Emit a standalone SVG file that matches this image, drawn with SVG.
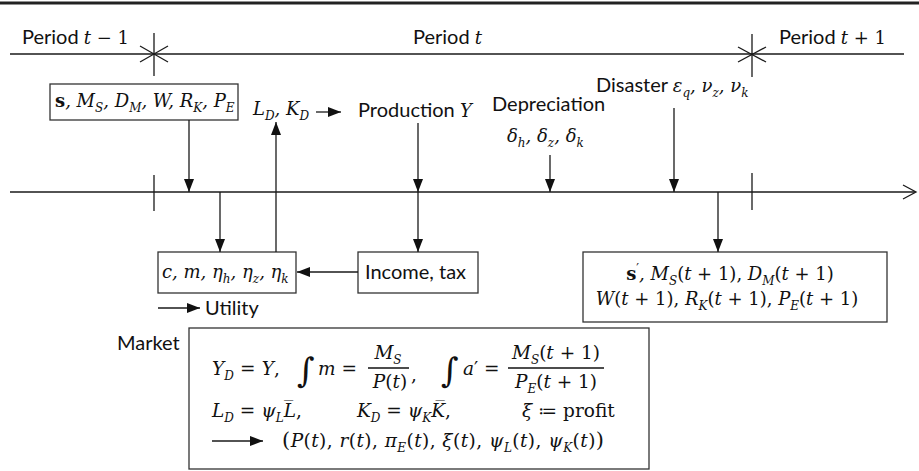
<svg xmlns="http://www.w3.org/2000/svg" width="919" height="471" viewBox="0 0 919 471">
<style>
.ln{stroke:#1a1a1a;stroke-width:1.3;fill:none}
.box{fill:#fff;stroke:#333;stroke-width:1.3}
.sans{font-family:Lato,"Liberation Sans",sans-serif;font-size:20px;fill:#111}
.m{font-family:"DejaVu Serif",serif;font-style:italic;font-size:18px;fill:#111}
.mk{font-size:18.5px}
.up{font-style:normal}
.b{font-weight:bold}
.sb{font-size:12px}
.int{font-family:"DejaVu Serif",serif;font-size:34px;fill:#111}
</style>
<defs>
<marker id="ah" markerUnits="userSpaceOnUse" markerWidth="13" markerHeight="10" refX="13" refY="5" orient="auto">
<path d="M0,0 L13,5 L0,10 z" fill="#111"/>
</marker>
</defs>
<rect width="919" height="471" fill="#fff"/>
<line x1="0" y1="3" x2="919" y2="3" stroke="#222" stroke-width="3"/>

<g id="timeline-periods">
<line class="ln" x1="10" y1="54" x2="904" y2="54"/>
<line class="ln" x1="154" y1="33" x2="154" y2="76"/>
<line class="ln" x1="140" y1="46" x2="168" y2="62"/>
<line class="ln" x1="140" y1="62" x2="168" y2="46"/>
<line class="ln" x1="752" y1="34" x2="752" y2="77"/>
<line class="ln" x1="738" y1="47" x2="766" y2="62"/>
<line class="ln" x1="738" y1="62" x2="766" y2="47"/>
<text class="sans" x="22" y="44">Period <tspan class="m" font-size="19.5px">t</tspan><tspan class="m up" font-size="19.5px"> − 1</tspan></text>
<text class="sans" x="413" y="44">Period <tspan class="m" font-size="19.5px">t</tspan></text>
<text class="sans" x="779" y="44">Period <tspan class="m" font-size="19.5px">t</tspan><tspan class="m up" font-size="19.5px"> + 1</tspan></text>
</g>

<g id="timeline-main">
<line class="ln" x1="10" y1="192" x2="915" y2="192"/>
<polyline class="ln" points="903,185 916,192 903,199"/>
<line class="ln" x1="154" y1="175" x2="154" y2="211"/>
<line class="ln" x1="752" y1="173" x2="752" y2="210"/>
</g>

<g id="state">
<rect class="box" x="50" y="84" width="188" height="36"/>
<text class="m" x="55" y="107"><tspan class="b up">s</tspan>, M<tspan class="sb" dy="4.5">S</tspan><tspan dy="-4.5">, D</tspan><tspan class="sb" dy="4.5">M</tspan><tspan dy="-4.5">, W, R</tspan><tspan class="sb" dy="4.5">K</tspan><tspan dy="-4.5">, P</tspan><tspan class="sb" dy="4.5">E</tspan></text>
</g>

<g id="factor-demand">
<text class="m" x="253" y="115">L<tspan class="sb" dy="4.5">D</tspan><tspan dy="-4.5">, K</tspan><tspan class="sb" dy="4.5">D</tspan></text>
</g>

<g id="production">
<text class="sans" x="358" y="117">Production <tspan class="m" font-size="18px">Y</tspan></text>
</g>

<g id="depreciation">
<text class="sans" x="492" y="111">Depreciation</text>
<text class="m" x="507" y="142">δ<tspan class="sb" dy="4.5">h</tspan><tspan dy="-4.5">, δ</tspan><tspan class="sb" dy="4.5">z</tspan><tspan dy="-4.5">, δ</tspan><tspan class="sb" dy="4.5">k</tspan></text>
</g>

<g id="disaster">
<text class="sans" x="596" y="92" font-size="19.5px">Disaster <tspan class="m">ε</tspan><tspan class="m sb" dy="4.5">q</tspan><tspan class="m" dy="-4.5">, ν</tspan><tspan class="m sb" dy="4.5">z</tspan><tspan class="m" dy="-4.5">, ν</tspan><tspan class="m sb" dy="4.5">k</tspan></text>
</g>

<g id="choice">
<rect class="box" x="158" y="252" width="138" height="41"/>
<text class="m" x="162" y="278">c, m, η<tspan class="sb" dy="4.5">h</tspan><tspan dy="-4.5">, η</tspan><tspan class="sb" dy="4.5">z</tspan><tspan dy="-4.5">, η</tspan><tspan class="sb" dy="4.5">k</tspan></text>
</g>

<g id="income">
<rect class="box" x="358" y="252" width="120" height="41"/>
<text class="sans" x="365" y="279">Income, tax</text>
</g>

<g id="utility">
<text class="sans" x="205" y="315">Utility</text>
</g>

<g id="next-state">
<rect class="box" x="583" y="252" width="304" height="70"/>
<text class="m" x="730" y="280" text-anchor="middle" font-size="17.5px"><tspan class="b up">s</tspan><tspan class="sb up" dy="-7">′</tspan><tspan dy="7">, M</tspan><tspan class="sb" dy="4.5">S</tspan><tspan class="up" dy="-4.5">(</tspan>t<tspan class="up"> + 1), </tspan>D<tspan class="sb" dy="4.5">M</tspan><tspan class="up" dy="-4.5">(</tspan>t<tspan class="up"> + 1)</tspan></text>
<text class="m" x="727" y="305" text-anchor="middle" font-size="17.5px">W<tspan class="up">(</tspan>t<tspan class="up"> + 1), </tspan>R<tspan class="sb" dy="4.5">K</tspan><tspan class="up" dy="-4.5">(</tspan>t<tspan class="up"> + 1), </tspan>P<tspan class="sb" dy="4.5">E</tspan><tspan class="up" dy="-4.5">(</tspan>t<tspan class="up"> + 1)</tspan></text>
</g>

<g id="market">
<text class="sans" x="117" y="350">Market</text>
<rect class="box" x="189" y="328" width="460" height="141"/>
<text class="m mk" x="212" y="375" textLength="68">Y<tspan class="sb" dy="4.5">D</tspan><tspan class="up" dy="-4.5"> = </tspan>Y<tspan class="up">,</tspan></text>
<text class="int" x="297" y="382">∫</text>
<text class="m mk" x="318" y="375">m<tspan class="up"> =</tspan></text>
<text class="m mk" x="388" y="359" text-anchor="middle">M<tspan class="sb" dy="4.5">S</tspan></text>
<line x1="368" y1="368" x2="409" y2="368" stroke="#111" stroke-width="1.3"/>
<text class="m mk" x="390" y="388" text-anchor="middle">P<tspan class="up">(</tspan>t<tspan class="up">)</tspan></text>
<text class="m mk up" x="411" y="381">,</text>
<text class="int" x="441" y="382">∫</text>
<text class="m mk" x="463" y="375">a<tspan class="up">′ =</tspan></text>
<text class="m mk" x="556" y="359" text-anchor="middle">M<tspan class="sb" dy="4.5">S</tspan><tspan class="up" dy="-4.5">(</tspan>t<tspan class="up"> + 1)</tspan></text>
<line x1="508" y1="368" x2="604" y2="368" stroke="#111" stroke-width="1.3"/>
<text class="m mk" x="556" y="388" text-anchor="middle">P<tspan class="sb" dy="4.5">E</tspan><tspan class="up" dy="-4.5">(</tspan>t<tspan class="up"> + 1)</tspan></text>
<text class="m mk" x="212" y="417">L<tspan class="sb" dy="4.5">D</tspan><tspan class="up" dy="-4.5"> = </tspan>ψ<tspan class="sb" dy="4.5">L</tspan><tspan dy="-4.5">L̅</tspan><tspan class="up">,</tspan></text>
<text class="m mk" x="357" y="417">K<tspan class="sb" dy="4.5">D</tspan><tspan class="up" dy="-4.5"> = </tspan>ψ<tspan class="sb" dy="4.5">K</tspan><tspan dy="-4.5">K̅</tspan><tspan class="up">,</tspan></text>
<text class="m mk" x="522" y="417">ξ<tspan class="up"> ≔ profit</tspan></text>
<text class="m mk" x="282" y="447" textLength="322"><tspan class="up" font-size="21px">(</tspan>P<tspan class="up">(</tspan>t<tspan class="up">), </tspan>r<tspan class="up">(</tspan>t<tspan class="up">), </tspan>π<tspan class="sb" dy="4.5">E</tspan><tspan class="up" dy="-4.5">(</tspan>t<tspan class="up">), </tspan>ξ<tspan class="up">(</tspan>t<tspan class="up">), </tspan>ψ<tspan class="sb" dy="4.5">L</tspan><tspan class="up" dy="-4.5">(</tspan>t<tspan class="up">), </tspan>ψ<tspan class="sb" dy="4.5">K</tspan><tspan class="up" dy="-4.5">(</tspan>t<tspan class="up">)</tspan><tspan class="up" font-size="21px">)</tspan></text>
</g>

<g id="connectors">
<line class="ln" x1="189" y1="120" x2="189" y2="192" marker-end="url(#ah)"/>
<line class="ln" x1="220" y1="192" x2="220" y2="252" marker-end="url(#ah)"/>
<line class="ln" x1="276" y1="252" x2="276" y2="122" marker-end="url(#ah)"/>
<line class="ln" x1="316" y1="112" x2="341" y2="112" marker-end="url(#ah)"/>
<line class="ln" x1="418" y1="123" x2="418" y2="192" marker-end="url(#ah)"/>
<line class="ln" x1="418" y1="192" x2="418" y2="252" marker-end="url(#ah)"/>
<line class="ln" x1="358" y1="272" x2="297" y2="272" marker-end="url(#ah)"/>
<line class="ln" x1="158" y1="308" x2="200" y2="308" marker-end="url(#ah)"/>
<line class="ln" x1="550" y1="155" x2="550" y2="192" marker-end="url(#ah)"/>
<line class="ln" x1="674" y1="108" x2="674" y2="192" marker-end="url(#ah)"/>
<line class="ln" x1="718" y1="192" x2="718" y2="252" marker-end="url(#ah)"/>
<line class="ln" x1="212" y1="441" x2="263" y2="441" marker-end="url(#ah)"/>
</g>
</svg>
